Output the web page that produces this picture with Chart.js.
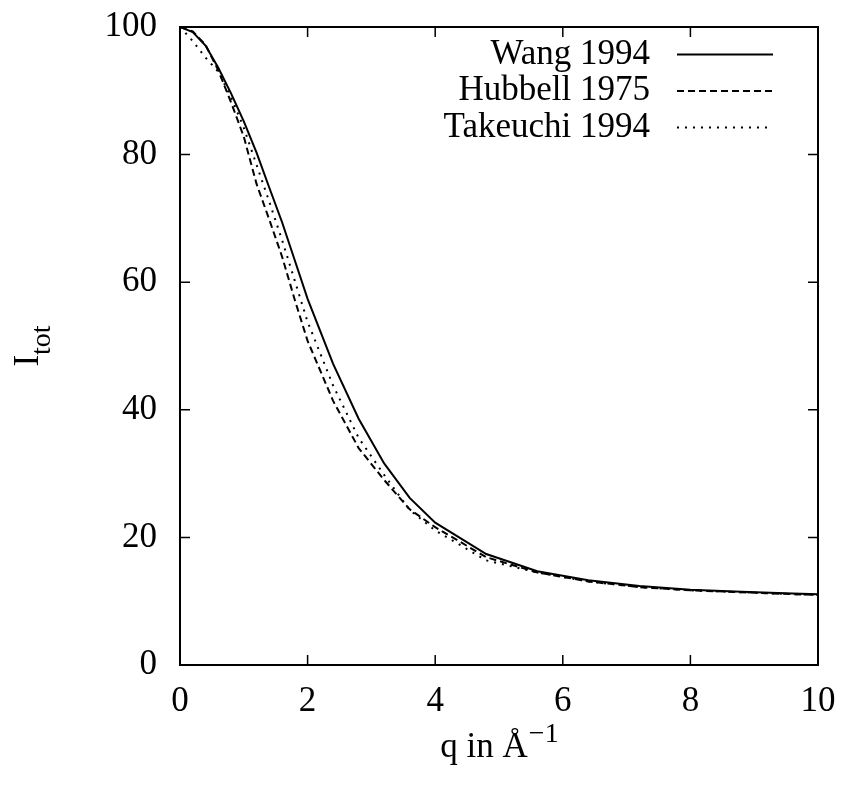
<!DOCTYPE html>
<html>
<head>
<meta charset="utf-8">
<script src="https://cdn.jsdelivr.net/npm/chart.js@4.4.0/dist/chart.umd.min.js"></script>
<style>
    html, body { margin: 0; padding: 0; background: #fff; }
    #wrap { width: 846px; height: 785px; }
</style>
</head>
<body>
<div id="wrap"><canvas id="myChart" width="846" height="785"></canvas></div>
<script>
// momentum transfer q (1/Angstrom)
const qValues = [0, 0.2, 0.4, 0.6, 0.8, 1.0, 1.2, 1.4, 1.6, 1.8, 2.0, 2.4, 2.8, 3.2, 3.6, 4.0, 4.8, 5.6, 6.4, 7.2, 8.0, 8.8, 9.6, 10.0];

// total scattered intensity for each data source
const wang1994 = [100, 99.2, 97.1, 93.6, 89.6, 85.2, 80.3, 74.8, 69.4, 63.4, 57.4, 47.2, 38.6, 31.6, 26.2, 22.3, 17.4, 14.7, 13.3, 12.4, 11.8, 11.5, 11.2, 11.1];
const hubbell1975 = [100, 99.3, 97.2, 93.2, 88.2, 82.8, 75.4, 69.8, 64.0, 57.2, 50.8, 41.4, 34.0, 29.0, 24.4, 21.6, 16.9, 14.5, 13.1, 12.2, 11.7, 11.4, 11.1, 11.0];
const takeuchi1994 = [100, 97.8, 95.2, 93.0, 89.0, 84.2, 78.4, 72.6, 66.6, 60.2, 53.8, 43.8, 35.6, 29.8, 24.3, 21.1, 16.4, 14.5, 13.1, 12.2, 11.7, 11.4, 11.1, 11.0];

const seriesLabels = ['Wang 1994', 'Hubbell 1975', 'Takeuchi 1994'];
const xTicks = [0, 2, 4, 6, 8, 10];
const yTicks = [0, 20, 40, 60, 80, 100];

const serif = "'Liberation Serif', 'Times New Roman', serif";

function toPoints(values) {
    return qValues.map((q, i) => ({ x: q, y: values[i] }));
}

function lineSet(label, values, dash) {
    return {
        label: label,
        data: toPoints(values),
        borderColor: '#000',
        borderWidth: 2,
        borderDash: dash,
        pointRadius: 0,
        tension: 0,
        fill: false,
    };
}

// gnuplot-like box: frame, inward ticks, axis titles and a key in the corner
const framePlugin = {
    id: 'frame',
    afterDatasetsDraw(chart) {
        const { ctx, chartArea: a, scales: { x, y } } = chart;
        ctx.save();
        ctx.strokeStyle = '#000';

        ctx.lineWidth = 1.5;
        ctx.beginPath();
        xTicks.forEach(v => {
            const px = x.getPixelForValue(v);
            ctx.moveTo(px, a.bottom); ctx.lineTo(px, a.bottom - 10);
            ctx.moveTo(px, a.top); ctx.lineTo(px, a.top + 10);
        });
        yTicks.forEach(v => {
            const py = y.getPixelForValue(v);
            ctx.moveTo(a.left, py); ctx.lineTo(a.left + 10, py);
            ctx.moveTo(a.right, py); ctx.lineTo(a.right - 10, py);
        });
        ctx.stroke();

        ctx.lineWidth = 2;
        ctx.strokeRect(a.left, a.top, a.right - a.left, a.bottom - a.top);

        // key
        ctx.fillStyle = '#000';
        ctx.font = '35px ' + serif;
        ctx.textAlign = 'right';
        ctx.textBaseline = 'middle';
        chart.data.datasets.forEach((ds, i) => {
            const rowY = 54.5 + i * 36.5;
            ctx.fillText(ds.label, 650, rowY);
            ctx.lineWidth = 2;
            ctx.setLineDash(ds.borderDash || []);
            ctx.beginPath();
            ctx.moveTo(677, rowY);
            ctx.lineTo(773, rowY);
            ctx.stroke();
        });
        ctx.setLineDash([]);

        // y title: I_tot
        ctx.textAlign = 'left';
        ctx.textBaseline = 'alphabetic';
        ctx.font = '35px ' + serif;
        const wI = ctx.measureText('I').width;
        ctx.font = '28px ' + serif;
        const wSub = ctx.measureText('tot').width;
        const cy = (a.top + a.bottom) / 2;
        ctx.save();
        ctx.translate(38, cy + (wI + wSub) / 2);
        ctx.rotate(-Math.PI / 2);
        ctx.font = '35px ' + serif;
        ctx.fillText('I', 0, 0);
        ctx.font = '28px ' + serif;
        ctx.fillText('tot', wI, 12);
        ctx.restore();

        // x title: q in Å^-1
        ctx.font = '35px ' + serif;
        const mainText = 'q in \u00C5';
        const wMain = ctx.measureText(mainText).width;
        ctx.font = '28px ' + serif;
        const supText = '\u22121';
        const wSup = ctx.measureText(supText).width;
        const x0 = (a.left + a.right) / 2 - (wMain + wSup) / 2;
        ctx.font = '35px ' + serif;
        ctx.fillText(mainText, x0, 757);
        ctx.font = '28px ' + serif;
        ctx.fillText(supText, x0 + wMain + 1, 742);

        ctx.restore();
    }
};

const config = {
    type: 'line',
    data: {
        datasets: [
            lineSet(seriesLabels[0], wang1994, []),
            lineSet(seriesLabels[1], hubbell1975, [7, 4]),
            lineSet(seriesLabels[2], takeuchi1994, [2, 6]),
        ]
    },
    options: {
        responsive: false,
        animation: false,
        events: [],
        layout: {
            padding: { top: 27, right: 28, left: 0, bottom: 0 }
        },
        plugins: {
            legend: { display: false },
            tooltip: { enabled: false },
            title: { display: false }
        },
        scales: {
            x: {
                type: 'linear',
                min: 0,
                max: 10,
                afterBuildTicks: s => { s.ticks = xTicks.map(v => ({ value: v })); },
                afterFit: s => {
                    s.height = 120;
                    s.paddingLeft = 0;
                    s.paddingRight = 0;
                },
                grid: { display: false, drawTicks: false },
                border: { display: false },
                ticks: {
                    color: '#000',
                    padding: 16,
                    maxRotation: 0,
                    font: { family: serif, size: 35 }
                }
            },
            y: {
                type: 'linear',
                min: 0,
                max: 100,
                afterBuildTicks: s => { s.ticks = yTicks.map(v => ({ value: v })); },
                afterFit: s => {
                    s.width = 180;
                    s.paddingTop = 0;
                    s.paddingBottom = 0;
                },
                grid: { display: false, drawTicks: false },
                border: { display: false },
                ticks: {
                    color: '#000',
                    padding: 23,
                    font: { family: serif, size: 35 }
                }
            }
        }
    },
    plugins: [framePlugin]
};

window.myChart = new Chart(document.getElementById('myChart'), config);
</script>
</body>
</html>
